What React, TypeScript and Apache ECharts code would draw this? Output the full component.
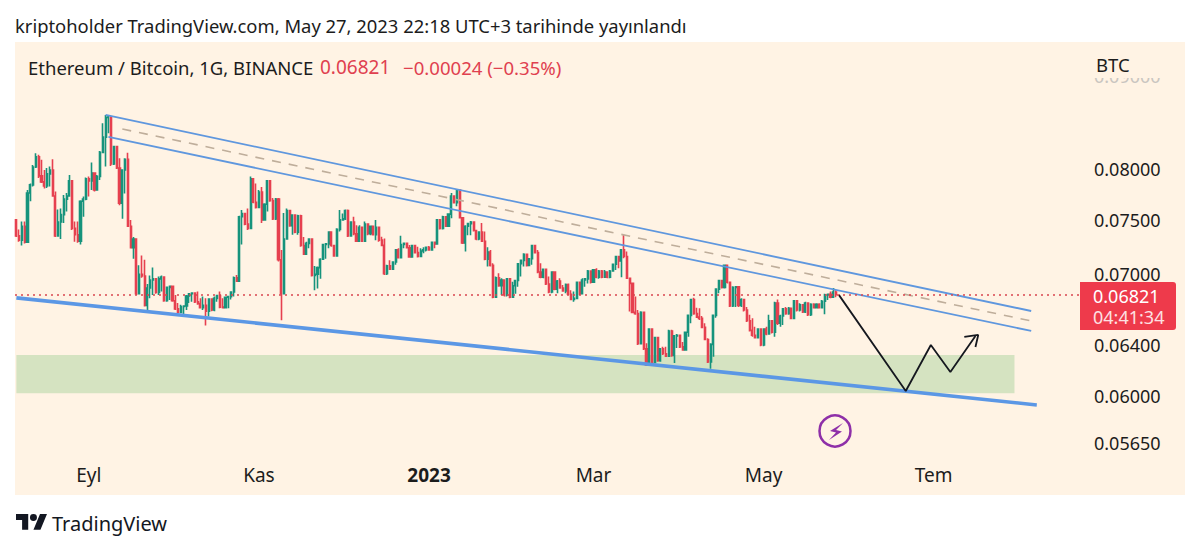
import React, { useEffect, useRef } from "react";
import * as echarts from "echarts";

// Prices are in units of 0.00001 BTC, one candle per day from 2022-08-06 to 2023-05-27.
const UNIT = 0.00001;
const firstOpen = 7500;
const closes = [
  7350,7310,7440,7290,7760,7840,8020,8125,7930,7870,
  7830,7950,7990,7730,7350,7480,7550,7700,7730,7880,
  7420,7360,7300,7680,7700,7900,7880,7960,7790,7925,
  8170,8330,8540,8545,8050,8230,8010,7660,7990,8100,
  7440,7240,7320,6830,7000,6985,6730,6880,6950,6960,
  6840,6960,6975,6770,6885,6895,6770,6700,6670,6720,
  6725,6810,6830,6835,6760,6745,6710,6730,6680,6785,
  6690,6790,6815,6715,6710,6800,6805,6845,6970,6940,
  7530,7560,7460,7420,7900,7670,7620,7770,7500,7650,
  7880,7685,7510,7700,7130,6830,7320,7590,7445,7545,
  7385,7540,7260,7180,7280,7320,6990,7000,7060,7135,
  7270,7275,7385,7260,7165,7410,7500,7510,7590,7350,
  7480,7370,7300,7430,7300,7460,7370,7440,7360,7430,
  7310,7262,7005,7075,7045,7110,7220,7150,7270,7280,
  7240,7155,7260,7195,7160,7210,7220,7245,7220,7290,
  7275,7500,7420,7530,7440,7555,7730,7665,7790,7520,
  7285,7440,7465,7480,7400,7320,7385,7300,7135,7200,
  7080,6800,6970,6900,6950,6820,6960,6800,6900,6945,
  7095,7125,7180,7080,7140,7260,7195,7020,6975,7045,
  6915,6845,7020,6870,6940,6880,6855,6910,6825,6780,
  6790,6930,6830,6950,6960,7030,6930,7040,6975,7030,
  6975,7020,6975,7030,7090,7160,7120,7220,7160,6965,
  6920,6670,6660,6410,6670,6370,6240,6530,6260,6460,
  6275,6370,6330,6310,6515,6315,6475,6480,6385,6360,
  6505,6645,6780,6660,6630,6620,6545,6445,6265,6405,
  6645,6870,6945,6885,7080,6930,6725,6885,6890,6730,
  6780,6690,6600,6520,6480,6460,6530,6400,6530,6490,
  6600,6505,6750,6580,6640,6700,6660,6705,6620,6770,
  6690,6735,6675,6750,6650,6740,6710,6740,6710,6765,
  6820,6825,6800,6845,6821,
];
const highs = [
  7500,7410,7485,7485,7790,7855,8040,8160,8145,8095,
  7990,8010,8025,8100,7775,7600,7610,7740,7760,7940,
  7860,7485,7485,7690,7725,7915,7925,8065,7905,7940,
  8185,8477,8567,8560,8545,8235,8215,8110,7990,8110,
  8165,7500,7340,7305,7080,7170,7130,6915,6990,7060,
  6950,6980,6990,6980,6890,6895,6885,6820,6750,6735,
  6730,6820,6835,6835,6805,6850,6790,6805,6790,6790,
  6775,6805,6820,6850,6790,6805,6805,6850,6980,6995,
  7540,7595,7550,7610,7925,7840,7855,7790,7820,7660,
  7890,7805,7710,7710,7710,7220,7565,7610,7550,7550,
  7550,7550,7550,7340,7295,7325,7310,7075,7070,7145,
  7275,7275,7390,7375,7265,7420,7595,7560,7600,7600,
  7485,7530,7450,7450,7435,7485,7450,7445,7435,7500,
  7435,7342,7325,7085,7125,7115,7225,7235,7350,7285,
  7275,7266,7266,7266,7250,7235,7245,7250,7255,7295,
  7280,7505,7470,7540,7485,7560,7760,7735,7795,7795,
  7515,7450,7470,7490,7470,7405,7390,7470,7390,7245,
  7220,7100,6980,7010,6965,6920,6965,6920,6935,6950,
  7100,7130,7190,7150,7145,7262,7266,7220,7100,7050,
  7035,6980,7025,7010,6950,6965,6905,6920,6920,6860,
  6850,6935,6935,6965,6965,7038,7010,7045,7055,7038,
  7038,7038,7025,7038,7095,7165,7130,7225,7360,7205,
  6958,6920,6805,6690,6680,6580,6415,6538,6415,6468,
  6425,6375,6385,6385,6525,6525,6480,6490,6415,6425,
  6510,6650,6785,6795,6710,6705,6640,6580,6455,6415,
  6650,6875,6950,6950,7085,7085,6935,6895,6895,6805,
  6790,6775,6715,6650,6620,6550,6538,6530,6538,6550,
  6650,6565,6760,6780,6650,6705,6715,6715,6678,6775,
  6747,6747,6735,6760,6747,6747,6747,6747,6747,6775,
  6830,6830,6850,6880,6860,
];
const lows = [
  7340,7295,7260,7280,7290,7680,7825,8010,7910,7860,
  7805,7810,7825,7725,7340,7435,7320,7470,7580,7760,
  7405,7295,7285,7270,7530,7690,7725,7790,7775,7785,
  7890,8165,8025,8370,8030,8040,8000,7640,7510,7755,
  7435,7235,7140,6820,6830,6970,6720,6680,6790,6820,
  6830,6820,6850,6760,6760,6775,6760,6690,6660,6665,
  6635,6690,6750,6760,6750,6735,6705,6690,6560,6635,
  6680,6680,6760,6705,6705,6705,6705,6780,6805,6935,
  6950,7270,7450,7405,7530,7660,7610,7620,7470,7500,
  7580,7675,7500,7500,7115,6605,6830,7360,7435,7360,
  7375,7360,7250,7175,7175,7235,6980,6860,6875,6960,
  7140,7140,7235,7250,7160,7165,7390,7499,7500,7340,
  7350,7355,7295,7300,7295,7300,7355,7355,7355,7310,
  7295,7255,6995,6995,7038,7040,7085,7145,7145,7235,
  7235,7150,7150,7190,7150,7160,7190,7205,7215,7220,
  7235,7275,7410,7410,7435,7435,7515,7660,7630,7515,
  7275,7205,7355,7355,7390,7310,7310,7295,7125,7070,
  7070,6790,6800,6890,6820,6805,6805,6790,6800,6830,
  6890,6980,7070,7070,7080,7085,7190,7010,6965,6965,
  6905,6835,6835,6860,6835,6875,6850,6835,6820,6775,
  6760,6790,6820,6830,6890,6920,6920,6930,6966,6960,
  6966,6975,6966,6966,7025,7038,7055,6975,7145,6958,
  6678,6665,6650,6400,6410,6360,6232,6240,6250,6260,
  6266,6266,6320,6305,6305,6305,6255,6375,6375,6355,
  6360,6468,6580,6650,6625,6607,6538,6440,6255,6210,
  6305,6625,6835,6875,6875,6920,6715,6715,6715,6715,
  6715,6678,6590,6510,6468,6455,6455,6390,6390,6480,
  6490,6495,6468,6565,6550,6565,6650,6650,6615,6620,
  6678,6678,6665,6665,6640,6640,6705,6705,6705,6705,
  6655,6775,6790,6820,6800,
];

const priceTicks = [0.09, 0.08, 0.075, 0.07, 0.064, 0.06, 0.0565];
const lastPrice = 0.06821;
const dateTicks = ["2022-09-01", "2022-11-01", "2023-01-01", "2023-03-01", "2023-05-01", "2023-07-01"];
const dateTickLabels = ["Eyl", "Kas", "{b|2023}", "Mar", "May", "Tem"];

// Drawings on the chart, as date / price pairs.
const upperChannelDates = ["2022-09-07", "2023-08-05"];
const upperChannelPrices = [0.08567, 0.06682];
const middleChannelDates = ["2022-09-13", "2023-08-05"];
const middleChannelPrices = [0.08416, 0.06598];
const lowerChannelDates = ["2022-09-08", "2023-08-05"];
const lowerChannelPrices = [0.08331, 0.06515];
const supportDates = ["2022-08-06", "2023-08-07"];
const supportPrices = [0.06794, 0.05932];
const forecastDates = ["2023-05-28", "2023-06-21", "2023-06-30", "2023-07-07", "2023-07-16"];
const forecastPrices = [0.0682, 0.06038, 0.064, 0.06185, 0.06474];
const arrowHeadDates = ["2023-07-12", "2023-07-17", "2023-07-16"];
const arrowHeadPrices = [0.06466, 0.06482, 0.06384];
const zoneDates = ["2022-08-06", "2023-07-30"];
const zonePrices = [0.0632, 0.0602];

const dayCount = 382;
const startUtc = Date.UTC(2022, 7, 6);
const days: string[] = [];
for (let i = 0; i < dayCount; i++) {
  days.push(new Date(startUtc + i * 86400000).toISOString().slice(0, 10));
}

const FONT = '"Noto Sans", sans-serif';
const PANEL = "#fff3e4";
const UP = "#16937c";
const DOWN = "#e6404f";

const TV_LOGO =
  "M14 22H7V11H0V4h14v18zM28 22h-8l7.5-18h8L28 22zM24 8a4 4 0 1 1-8 0a4 4 0 1 1 8 0z";
echarts.graphic.registerShape("tvlogo", echarts.graphic.extendPath(TV_LOGO, {}));

const pairs = (xs: string[], ys: number[]) => xs.map((x, i) => [x, ys[i]]);

const drawn = (name: string, xs: string[], ys: number[], color: string, width: number, type: any = "solid") => ({
  name,
  type: "line",
  data: pairs(xs, ys),
  symbol: "none",
  silent: true,
  z: 4,
  lineStyle: { color, width, type },
});

export default function App() {
  const ref = useRef<HTMLDivElement>(null);
  useEffect(() => {
    const chart = echarts.init(ref.current!, undefined, { renderer: "svg" });
    const candles = closes.map((c, i) => [
      (i === 0 ? firstOpen : closes[i - 1]) * UNIT,
      c * UNIT,
      lows[i] * UNIT,
      highs[i] * UNIT,
    ]);
    chart.setOption({
      animation: false,
      textStyle: { fontFamily: FONT },
      grid: { left: 15, top: 42, width: 1065, height: 453, containLabel: false },
      xAxis: {
        type: "category",
        data: days,
        boundaryGap: true,
        axisLine: { show: false },
        axisTick: { show: false },
        splitLine: { show: false },
        axisLabel: {
          inside: true,
          margin: 11,
          fontSize: 19,
          color: "#1c1c1c",
          fontFamily: FONT,
          interval: (_i: number, v: string) => dateTicks.includes(v),
          formatter: (v: string) => dateTickLabels[dateTicks.indexOf(v)] ?? "",
          rich: { b: { fontWeight: "bold", fontSize: 19, color: "#1c1c1c", fontFamily: FONT } },
        },
      },
      yAxis: {
        type: "log",
        logBase: 10,
        position: "right",
        min: 0.05292,
        max: 0.09397,
        axisLine: { show: false },
        axisTick: { show: false },
        splitLine: { show: false },
        minorTick: { show: false },
        axisLabel: {
          margin: 14,
          fontSize: 18,
          fontFamily: FONT,
          customValues: priceTicks,
          color: (v: any) => (Number(v) > 0.085 ? "#c9c5c0" : "#1c1c1c"),
          formatter: (v: number) => Number(v).toFixed(5),
        },
      },
      series: [
        {
          name: "zone",
          type: "line",
          data: [],
          silent: true,
          z: 1,
          markArea: {
            silent: true,
            itemStyle: { color: "#d5e3c1", opacity: 1 },
            data: [[
              { xAxis: zoneDates[0], yAxis: zonePrices[0] },
              { xAxis: zoneDates[1], yAxis: zonePrices[1] },
            ]],
          },
          markLine: {
            silent: true,
            symbol: "none",
            precision: 5,
            label: { show: false },
            lineStyle: { color: "#d9464f", width: 1.5, type: [2, 4] },
            data: [{ yAxis: lastPrice }],
          },
        },
        {
          name: "ETHBTC",
          type: "candlestick",
          data: candles,
          barWidth: 1.6,
          silent: true,
          z: 3,
          itemStyle: { color: UP, color0: DOWN, borderColor: UP, borderColor0: DOWN, borderWidth: 1.6 },
        },
        drawn("upper", upperChannelDates, upperChannelPrices, "#5f97de", 1.8),
        drawn("lower", lowerChannelDates, lowerChannelPrices, "#5f97de", 1.8),
        drawn("middle", middleChannelDates, middleChannelPrices, "#bfae9b", 1.6, [9, 8]),
        drawn("support", supportDates, supportPrices, "#5b97e5", 3.6),
        drawn("forecast", forecastDates, forecastPrices, "#15181f", 1.8),
        drawn("arrowhead", arrowHeadDates, arrowHeadPrices, "#15181f", 1.8),
      ],
      graphic: {
        elements: [
          { type: "rect", z: -1, silent: true, shape: { x: 15, y: 42, width: 1170, height: 453 }, style: { fill: PANEL } },
          { type: "rect", z: 20, silent: true, shape: { x: 1081, y: 42, width: 104, height: 36 }, style: { fill: PANEL } },
          { type: "text", z: 21, x: 15, y: 25, silent: true, style: { text: "kriptoholder TradingView.com, May 27, 2023 22:18 UTC+3 tarihinde yayınlandı", font: `18.4px ${FONT}`, fill: "#1c1c1c", verticalAlign: "middle" } },
          { type: "text", z: 21, x: 28, y: 67, silent: true, style: { text: "Ethereum / Bitcoin, 1G, BINANCE", font: `18.5px ${FONT}`, fill: "#1c1c1c", verticalAlign: "middle" } },
          { type: "text", z: 21, x: 320, y: 67, silent: true, style: { text: "0.06821", font: `19px ${FONT}`, fill: "#e0404f", verticalAlign: "middle" } },
          { type: "text", z: 21, x: 403, y: 67, silent: true, style: { text: "−0.00024 (−0.35%)", font: `18.6px ${FONT}`, fill: "#e0404f", verticalAlign: "middle" } },
          { type: "text", z: 21, x: 1096, y: 64, silent: true, style: { text: "BTC", font: `18.5px ${FONT}`, fill: "#1c1c1c", verticalAlign: "middle" } },
          { type: "rect", z: 22, silent: true, shape: { x: 1080, y: 282, width: 96, height: 48, r: [0, 3, 3, 0] }, style: { fill: "#ee3a4b" } },
          { type: "text", z: 23, x: 1093, y: 296, silent: true, style: { text: "0.06821", font: `18px ${FONT}`, fill: "#ffffff", verticalAlign: "middle" } },
          { type: "text", z: 23, x: 1093, y: 317, silent: true, style: { text: "04:41:34", font: `18px ${FONT}`, fill: "#fde0e2", verticalAlign: "middle" } },
          { type: "circle", z: 21, silent: true, shape: { cx: 835, cy: 431, r: 15.5 }, style: { fill: "none", stroke: "#8e2fa8", lineWidth: 2.5 } },
          { type: "polygon", z: 21, silent: true, shape: { points: [[843, 423], [830, 431], [836, 432.5], [829, 440], [842, 431.5], [836, 430]] }, style: { fill: "#8e2fa8" } },
          { type: "tvlogo", z: 21, x: 16, y: 510.5, scaleX: 0.873, scaleY: 0.873, silent: true, style: { fill: "#131722" } },
          { type: "text", z: 21, x: 52, y: 523, silent: true, style: { text: "TradingView", font: `20px ${FONT}`, fill: "#131722", verticalAlign: "middle" } },
        ],
      },
    });
    return () => chart.dispose();
  }, []);
  return (
    <div style={{ position: "absolute", left: 0, top: 0, width: 1200, height: 550, background: "#fff" }}>
      <div ref={ref} style={{ width: 1200, height: 550 }} />
    </div>
  );
}
